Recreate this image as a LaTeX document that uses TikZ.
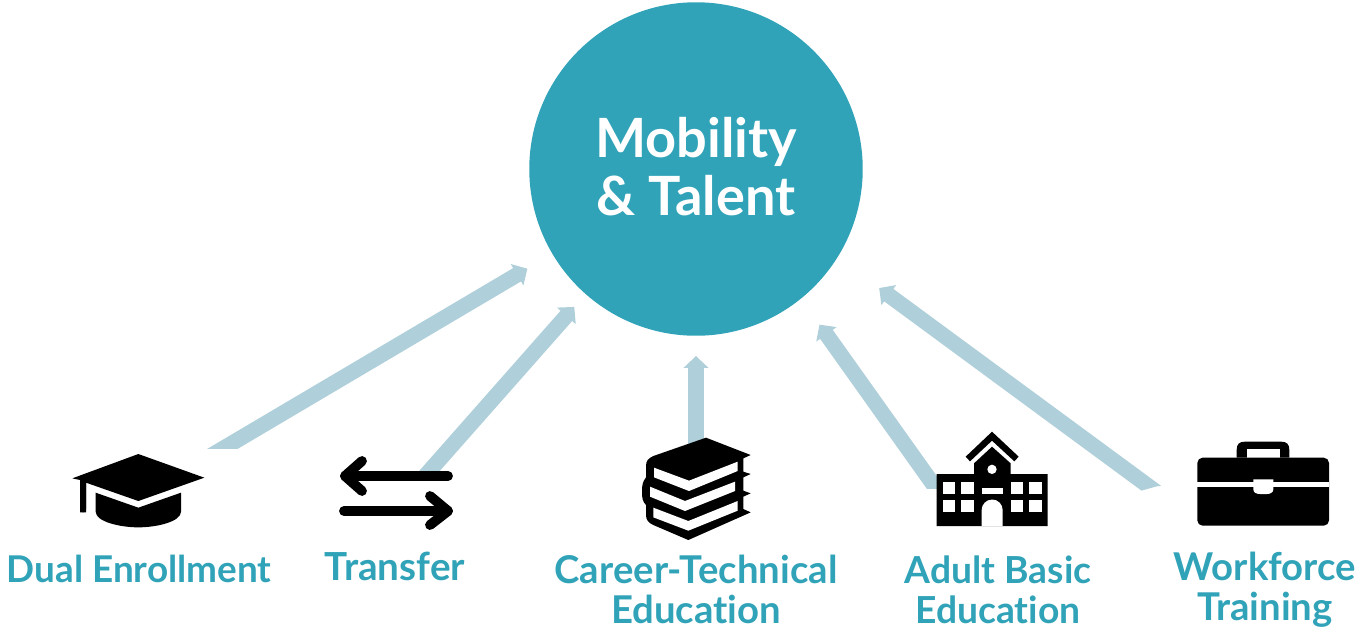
\documentclass[tikz,border=0pt]{standalone}
\usepackage{fontspec}
\setmainfont[Ligatures=NoCommon]{Lato}
\usetikzlibrary{arrows.meta}
\definecolor{tealmain}{HTML}{31A3B8}
\definecolor{tealpale}{HTML}{AFD0DA}
\tikzset{
  flowarrow/.style={draw=tealpale,line width=8.8pt,-{Triangle[length=6.8pt,width=13.8pt,fill=tealpale]}},
  hubcircle/.style={circle,fill=tealmain,minimum size=189.8pt,inner sep=0pt},
  hublabel/.style={text=white,inner sep=0pt,align=center,font=\fontsize{30.8}{33}\selectfont\bfseries},
  pathlabel/.style={text=tealmain,inner sep=0pt,align=center,font=\fontsize{#1}{22.7}\selectfont\bfseries},
  icon/.style={shift={#1},scale=1/3},
  arrowline/.style={draw=black,line width=5.6pt,line cap=round,line join=round}
}
\begin{document}
\begin{tikzpicture}[x=0.02cm,y=0.02cm]
  \useasboundingbox (0,0) rectangle (1358,-627);
  \node [hubcircle] (mobility) at (696,-169) {};
  \node [hublabel] (mobilitytext) at (696,-167) {Mobility\\\& Talent};
  \node [pathlabel=21] (dual) at (139,-569) {Dual Enrollment};
  \node [pathlabel=22] (transfer) at (395,-566) {Transfer};
  \node [pathlabel=21.8] (career) at (696,-589.5) {Career-Technical\\Education};
  \node [pathlabel=21.2] (adult) at (998,-589.5) {Adult Basic\\Education};
  \node [pathlabel=21.8] (workforce) at (1265,-590) {Workforce\\Training};
  \coordinate (dualstart) at (207,-458);
  \coordinate (transferstart) at (425,-476);
  \coordinate (careerstart) at (696,-450);
  \coordinate (adultstart) at (950,-508);
  \coordinate (workstart) at (1170,-502);
  \begin{scope}
    \clip (0,0) rectangle (1358,-448);
    \draw [flowarrow,shorten >=16.4pt] (dualstart) -- (mobility);
  \end{scope}
  \draw [flowarrow,shorten >=9.6pt] (transferstart) -- (mobility);
  \draw [flowarrow,shorten >=11.3pt] (careerstart) -- (mobility);
  \begin{scope}
    \clip (0,0) rectangle (1358,-488);
    \draw [flowarrow,shorten >=18pt] (adultstart) -- (mobility.-51.3);
  \end{scope}
  \begin{scope}
    \clip (700,0) -- (1358,0) -- (1358,-484) -- (1158,-486) -- (1140,-491) -- (700,-491) -- cycle;
    \draw [flowarrow,shorten >=29.3pt] (workstart) -- (mobility.-32.9);
  \end{scope}
  \begin{scope}[icon={(40,-430)}]
    \fill (295,-72) -- (493,-143) -- (295,-213) -- (138,-158) -- (138,-247) -- (120,-247) -- (120,-150) -- (97,-145) -- cycle;
    \fill [rounded corners=2pt] (120,-140) rectangle (138,-247);
    \fill (167,-188) -- (295,-233) -- (423,-188) -- (423,-245) .. controls (423,-275) and (350,-292) .. (295,-292) .. controls (240,-292) and (167,-275) .. (167,-245) -- cycle;
  \end{scope}
  \draw [arrowline] (362,-461) -- (345,-476) -- (362,-491);
  \draw [arrowline] (345,-476) -- (448,-476);
  \draw [arrowline] (344,-511) -- (448,-511);
  \draw [arrowline] (430,-496) -- (448,-511) -- (430,-525);
  \begin{scope}[icon={(620,-340)}]
    \fill (258,-293) -- (392,-345) -- (370,-355) -- (370,-395) -- (392,-402) -- (370,-412) -- (370,-452) -- (392,-460) -- (370,-470) -- (370,-507) -- (392,-517) -- (205,-600) -- (100,-555) .. controls (85,-548) and (78,-540) .. (78,-525) -- (78,-495) .. controls (68,-485) and (66,-475) .. (66,-455) .. controls (66,-435) and (68,-425) .. (78,-412) -- (78,-378) .. controls (78,-362) and (85,-355) .. (100,-348) -- cycle;
    \fill [white] (102,-383) -- (207,-422) -- (353,-365) -- (353,-393) -- (207,-453) -- (102,-412) -- cycle;
    \fill [white] (90,-440) -- (195,-483) -- (345,-425) -- (345,-453) -- (195,-513) -- (90,-470) -- cycle;
    \fill [white] (100,-503) -- (205,-543) -- (353,-483) -- (353,-512) -- (205,-572) -- (100,-532) -- cycle;
  \end{scope}
  \begin{scope}[icon={(920,-420)}]
    \fill (137,-110) -- (216,-35) -- (296,-110) -- (283,-124) -- (216,-62) -- (150,-124) -- cycle;
    \fill (50,-162) -- (162,-162) -- (162,-130) -- (216,-80) -- (272,-130) -- (272,-162) -- (383,-162) -- (383,-318) -- (50,-318) -- cycle;
    \fill [white] (216,-148) circle (14);
    \foreach \winx in {68,124,272,328}
      \foreach \winy in {185,240}
        \fill [white] (\winx,-\winy) rectangle ++(37,-37);
    \fill [white] (185,-204) rectangle (248,-222);
    \fill [white] (185,-318) -- (185,-270) arc (180:0:31.5) -- (248,-318) -- cycle;
  \end{scope}
  \begin{scope}[icon={(920,-420)}]
    \fill (950,-113) -- (950,-90) .. controls (950,-72) and (958,-65) .. (975,-65) -- (1083,-65) .. controls (1100,-65) and (1108,-72) .. (1108,-90) -- (1108,-113) -- cycle;
    \fill [white] (980,-86) rectangle (1080,-113);
    \fill [rounded corners=3pt] (832,-113) rectangle (1227,-317);
    \fill [white] (832,-186) rectangle (1227,-200);
    \fill [white] (1000,-178) -- (1060,-178) -- (1060,-208) .. controls (1060,-218) and (1050,-222) .. (1040,-222) -- (1020,-222) .. controls (1010,-222) and (1000,-218) .. (1000,-208) -- cycle;
  \end{scope}
\end{tikzpicture}
\end{document}
